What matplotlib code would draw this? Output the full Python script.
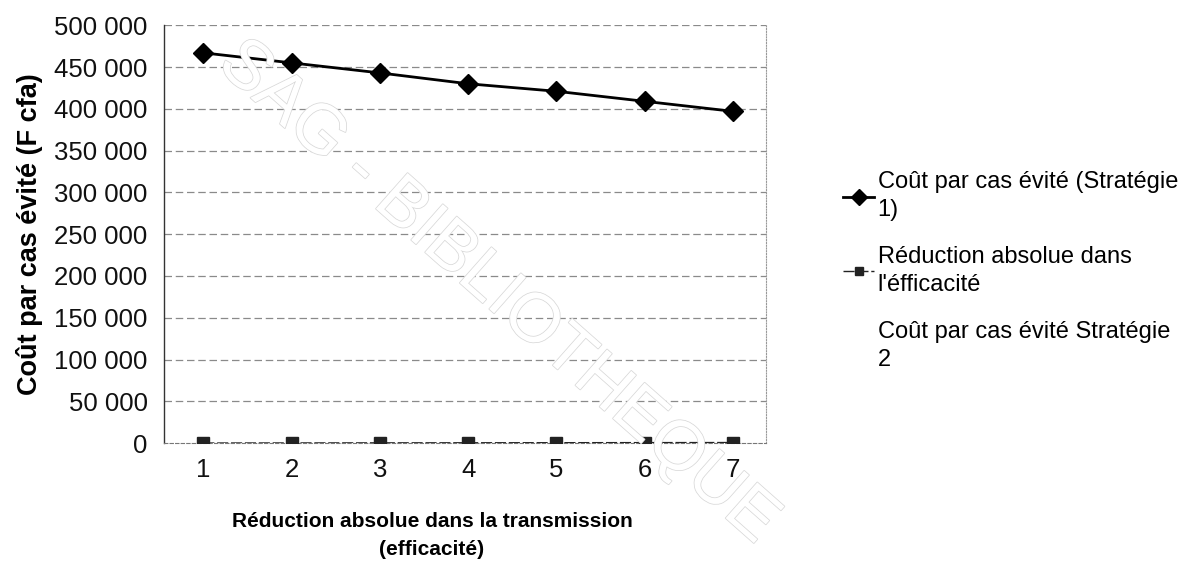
import matplotlib.pyplot as plt
import matplotlib.patheffects as pe
from matplotlib.lines import Line2D
from matplotlib.ticker import FuncFormatter

plt.rcParams['font.family'] = ['Liberation Sans', 'DejaVu Sans']

# données
reduction = [1, 2, 3, 4, 5, 6, 7]
cout_strategie1 = [467000, 455000, 443000, 430000, 421000, 409000, 397000]
reduction_efficacite = [100, 200, 300, 400, 500, 600, 700]
y_ticks = [0, 50000, 100000, 150000, 200000, 250000, 300000, 350000, 400000, 450000, 500000]

lab1 = "Coût par cas évité (Stratégie\n1)"
lab2 = "Réduction absolue dans\nl'éfficacité"
lab3 = "Coût par cas évité Stratégie\n2"

fig = plt.figure(figsize=(12, 5.74), dpi=100)

# filigrane (derrière le graphique)
fig.text(0.415, 0.49, "SAG - BIBLIOTHEQUE", rotation=-41.5, fontsize=50,
         color='white', ha='center', va='center', zorder=0,
         path_effects=[pe.withStroke(linewidth=1.1, foreground='#d8d8d8')])

ax = fig.add_axes([0.137, 0.228, 0.501, 0.728])
ax.patch.set_alpha(0)

# grille horizontale en pointillés
for v in y_ticks[1:]:
    ax.axhline(v, color='#8a8a8a', lw=0.9, ls=(0, (6, 3)), zorder=0)

ax.plot(reduction, cout_strategie1, color='black', lw=2, marker='D', markersize=10,
        label=lab1, zorder=3)
ax.plot(reduction, reduction_efficacite, color='#222222', lw=1, ls=(0, (8, 2)),
        marker='s', markersize=8, label=lab2, zorder=3)

ax.set_xlim(0.56, 7.37)
ax.set_ylim(0, 500000)
ax.set_xticks(reduction)
ax.set_yticks(y_ticks)
ax.yaxis.set_major_formatter(FuncFormatter(lambda v, p: f"{int(v):,}".replace(",", " ")))
ax.tick_params(length=0, labelsize=18.5, colors='#111111')
ax.tick_params(axis='x', pad=11)
ax.tick_params(axis='y', pad=12)

ax.spines['top'].set_visible(False)
ax.spines['left'].set_color('#333333')
ax.spines['left'].set_linewidth(1)
ax.spines['right'].set_color('#999999')
ax.spines['right'].set_linestyle((0, (1, 1.5)))
ax.spines['bottom'].set_color('#777777')
ax.spines['bottom'].set_linestyle((0, (3, 2)))

ax.set_ylabel("Coût par cas évité (F cfa)", fontsize=19.5, fontweight='bold', labelpad=8)
ax.set_xlabel("Réduction absolue dans la transmission\n(efficacité)", fontsize=15,
              fontweight='bold', linespacing=1.6)
ax.xaxis.set_label_coords(0.445, -0.165)

handles, labels = ax.get_legend_handles_labels()
handles.append(Line2D([], [], linestyle='none'))
labels.append(lab3)
leg = fig.legend(handles, labels, loc='upper left', bbox_to_anchor=(0.695, 0.718),
                 frameon=False, fontsize=17, handlelength=1.3, handletextpad=0.15,
                 labelspacing=1.05, borderaxespad=0, markerscale=0.8)
for t in leg.get_texts():
    t.set_linespacing(1.35)

fig.savefig("out.png", dpi=100)
